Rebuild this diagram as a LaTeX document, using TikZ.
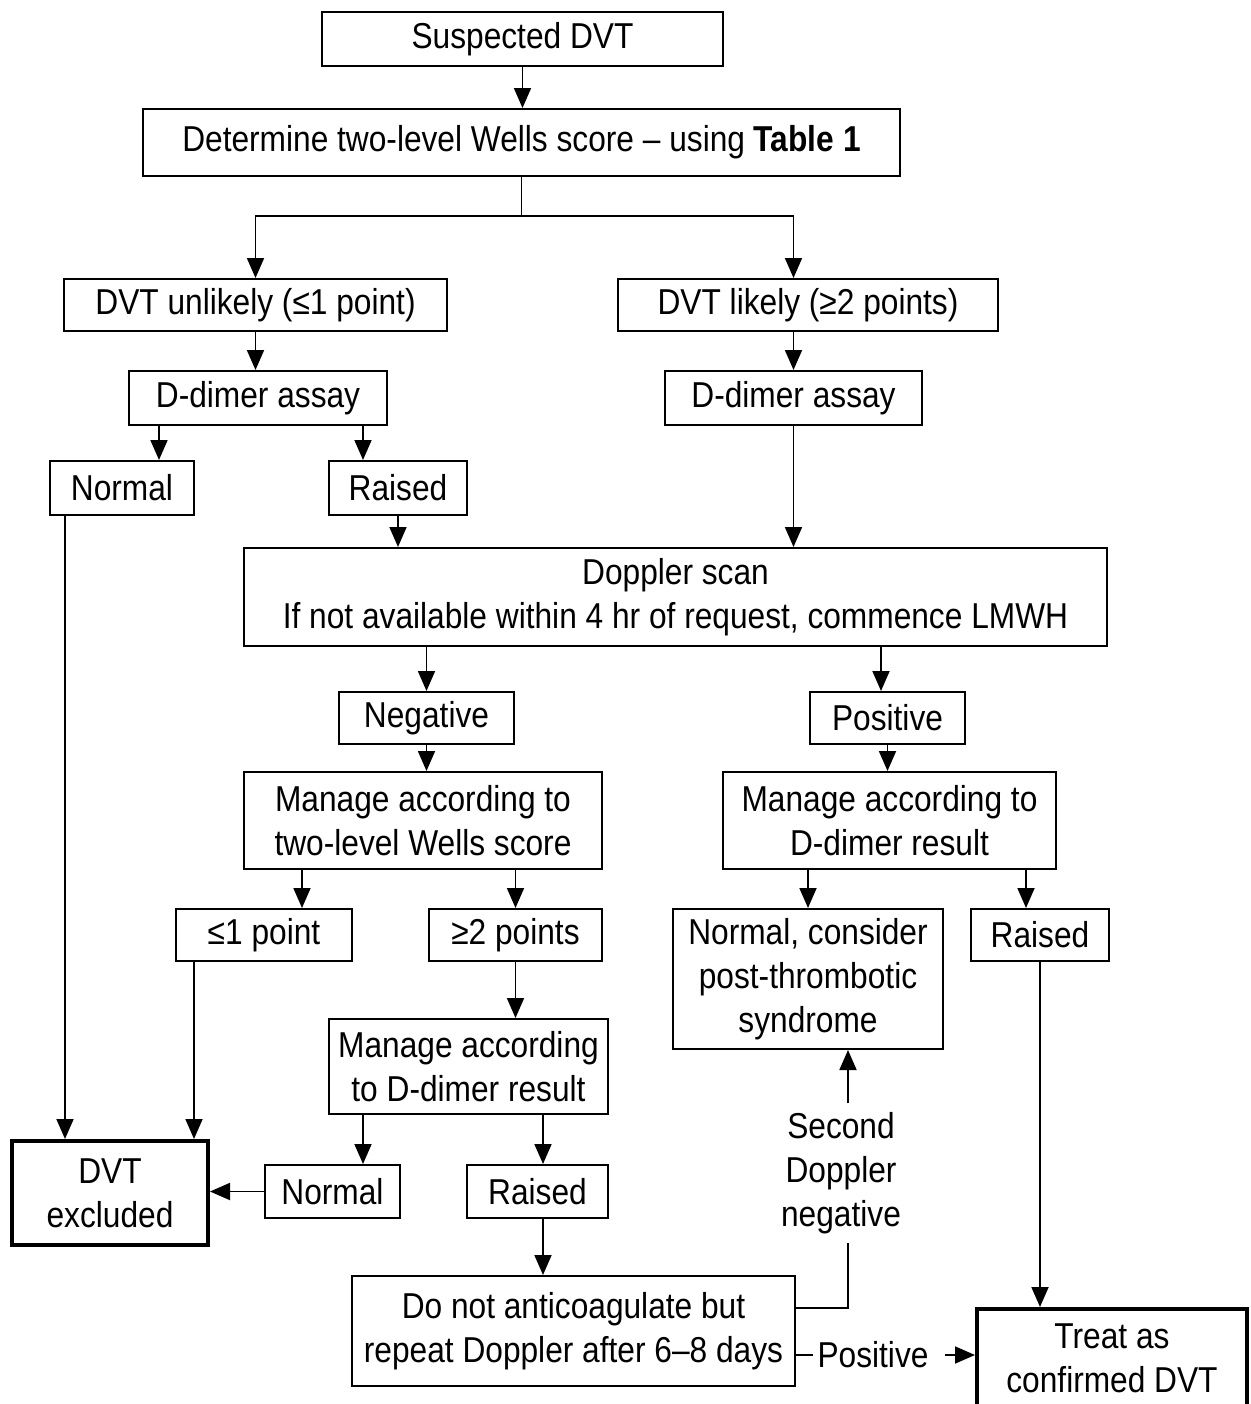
\documentclass[tikz,border=0pt]{standalone}
\usepackage{fontspec}
\usepackage{tikz}
\usetikzlibrary{positioning, calc, arrows.meta}
\newfontfamily\flowfont{Liberation Sans}[FakeStretch=0.88, Ligatures=TeX]
\newcommand{\flowtext}{\flowfont\fontsize{18}{22}\selectfont}

\begin{document}
\begin{tikzpicture}[x=0.5pt, y=-0.5pt, line width=0.9pt,
    every node/.style={font=\flowtext},
    box/.style={draw, line width=1pt, inner sep=0pt, align=center},
    endbox/.style={box, line width=2pt},
    lbl/.style={inner sep=4pt, align=center},
    arr/.style={-{Triangle[length=10pt, width=8.5pt]}}]
  \useasboundingbox (0,0) rectangle (1250,1404);

  % Entry and scoring
  \node[box, minimum width=200.5pt, minimum height=27pt] (susp) at (522.5,39) {Suspected DVT};
  \node[box, minimum width=378.5pt, minimum height=33.5pt] (wells) at (521.5,142.5)
    {Determine two-level Wells score -- using \textbf{Table 1}};

  % Wells branches
  \node[box, minimum width=191.5pt, minimum height=26pt] (dvtu) at (255.5,305) {DVT unlikely (≤1 point)};
  \node[box, minimum width=190pt, minimum height=26pt] (dvtl) at (808,305) {DVT likely (≥2 points)};
  \node[box, minimum width=129pt, minimum height=27pt] (ddl) at (258,398) {D-dimer assay};
  \node[box, minimum width=128.5pt, minimum height=27pt] (ddr) at (793.5,398) {D-dimer assay};
  \node[box, minimum width=72pt, minimum height=27pt] (nl) at (122,488) {Normal};
  \node[box, minimum width=69pt, minimum height=27pt] (rl) at (398,488) {Raised};

  % Doppler
  \node[box, minimum width=431.5pt, minimum height=49pt] (dop) at (675.5,597)
    {Doppler scan\\If not available within 4 hr of request, commence LMWH};
  \node[box, minimum width=87.5pt, minimum height=26pt] (neg) at (426.5,718) {Negative};
  \node[box, minimum width=77.5pt, minimum height=26pt] (pos) at (887.5,718) {Positive};
  \node[box, minimum width=179pt, minimum height=48.5pt] (mw) at (423,820.5)
    {Manage according to\\two-level Wells score};
  \node[box, minimum width=166.5pt, minimum height=48.5pt] (md) at (889.5,820.5)
    {Manage according to\\D-dimer result};
  \node[box, minimum width=88pt, minimum height=26pt] (le1) at (264,935) {≤1 point};
  \node[box, minimum width=86.5pt, minimum height=26pt] (ge2) at (515.5,935) {≥2 points};
  \node[box, minimum width=135pt, minimum height=70pt] (nps) at (808,979)
    {Normal, consider\\post-thrombotic\\syndrome};
  \node[box, minimum width=69pt, minimum height=26pt] (rr) at (1040,935) {Raised};
  \node[box, minimum width=139.5pt, minimum height=47.5pt] (md2) at (468.5,1066.5)
    {Manage according\\to D-dimer result};
  \node[box, minimum width=67.5pt, minimum height=26.5pt] (n2) at (332.5,1191.5) {Normal};
  \node[box, minimum width=70.5pt, minimum height=26.5pt] (r2) at (537.5,1191.5) {Raised};
  \node[box, minimum width=221.5pt, minimum height=55pt] (dna) at (573.5,1331)
    {Do not anticoagulate but\\repeat Doppler after 6--8 days};

  % Outcomes
  \node[endbox, minimum width=98pt, minimum height=52pt] (dvtx) at (110,1193) {DVT\\excluded};
  \node[endbox, minimum width=135pt, minimum height=49pt] (treat) at (1112,1358)
    {Treat as\\confirmed DVT};

  % Labels on connectors
  \node[lbl] (sdn) at (841,1173) {Second\\Doppler\\negative};
  \node[lbl, inner sep=2pt] (posl) at (873,1355) {Positive};

  % Connectors
  \draw[arr] (susp.south) -- (susp.south |- wells.north);
  \draw[arr] (wells.south) -- ++(0,39) -| (dvtu.north);
  \draw[arr] (wells.south) -- ++(0,39) -| (dvtl.north -| ddr.north);
  \draw[arr] (dvtu.south) -- (dvtu.south |- ddl.north);
  \draw[arr] (ddr.north |- dvtl.south) -- (ddr.north);
  \draw[arr] (ddl.south -| 159,0) -- (nl.north -| 159,0);
  \draw[arr] (ddl.south -| 363,0) -- (rl.north -| 363,0);
  \draw[arr] (rl.south) -- (rl.south |- dop.north);
  \draw[arr] (ddr.south) -- (ddr.south |- dop.north);
  \draw[arr] (dop.south -| neg.north) -- (neg.north);
  \draw[arr] (dop.south -| 881,0) -- (pos.north -| 881,0);
  \draw[arr] (neg.south) -- (neg.south |- mw.north);
  \draw[arr] (pos.south) -- (pos.south |- md.north);
  \draw[arr] (mw.south -| 302,0) -- (le1.north -| 302,0);
  \draw[arr] (mw.south -| ge2.north) -- (ge2.north);
  \draw[arr] (md.south -| nps.north) -- (nps.north);
  \draw[arr] (md.south -| 1026,0) -- (rr.north -| 1026,0);
  \draw[arr] (ge2.south) -- (ge2.south |- md2.north);
  \draw[arr] (md2.south -| 363,0) -- (n2.north -| 363,0);
  \draw[arr] (md2.south -| 543,0) -- (r2.north -| 543,0);
  \draw[arr] (r2.south -| 543,0) -- (dna.north -| 543,0);
  \draw[arr] (n2.west) -- (n2.west -| dvtx.east);
  \draw[arr] (nl.south -| 65,0) -- (dvtx.north -| 65,0);
  \draw[arr] (le1.south -| 194,0) -- (dvtx.north -| 194,0);
  \draw[arr] (rr.south) -- (rr.south |- treat.north);
  \draw (dna.east |- 0,1308) -| (sdn.south -| 848,0);
  \draw[arr] (sdn.north -| 848,0) -- (nps.south -| 848,0);
  \draw (dna.east |- posl) -- (posl.west);
  \draw[arr] ([xshift=6pt]posl.east) -- (posl -| treat.west);
\end{tikzpicture}
\end{document}
